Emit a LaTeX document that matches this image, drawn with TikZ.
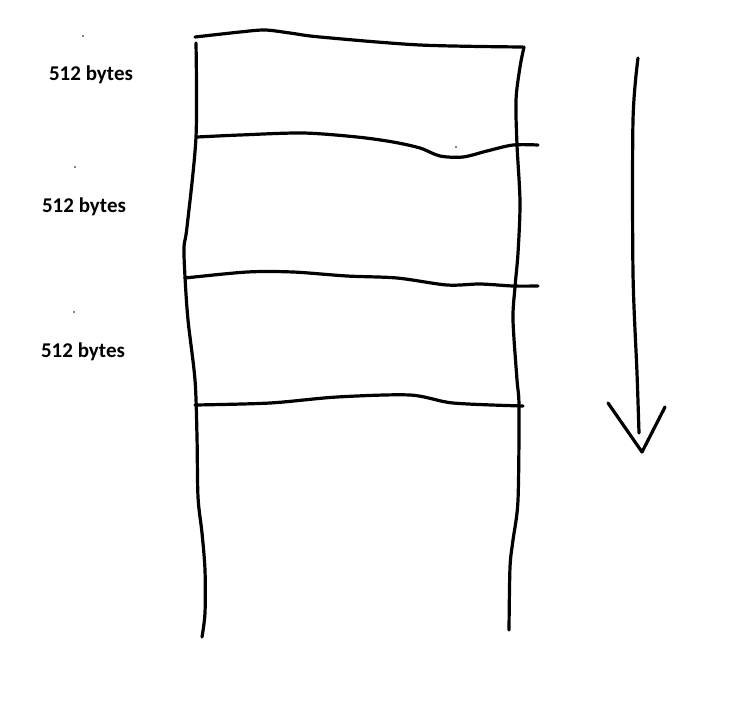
\documentclass[tikz,border=0pt]{standalone}
\usepackage{fontspec}
\setmainfont{Carlito}
\usepackage{tikz}

\tikzset{
  pen/.style={line width=3.2pt, line join=round, line cap=round},
  size/.style={font=\bfseries\fontsize{21}{24}\selectfont, inner sep=0pt},
  speck/.style={fill=black, circle, inner sep=0pt, minimum size=1.6pt}
}

\begin{document}
\begin{tikzpicture}[x=1pt, y=-1pt]
  \useasboundingbox (0,0) rectangle (730,718);

  % the block column
  \draw[pen] plot[smooth, tension=0.5] coordinates {(195,37) (240,32) (265,30) (290,33) (320,37) (420,45) (523,47)};
  \draw[pen] plot[smooth, tension=0.5] coordinates {(196,43) (196,137) (187,227) (184,247) (185,277) (188,320) (195,380) (197,437) (198,497) (202,533) (205,570) (205,613) (202,637)};
  \draw[pen] plot[smooth, tension=0.5] coordinates {(524,47) (520,67) (516,100) (517,145) (520,202) (518,253) (515,287) (513,320) (517,380) (519,407) (518,500) (513,540) (510,567) (509,630)};

  % block borders
  \draw[pen] plot[smooth, tension=0.5] coordinates {(197,137) (240,135) (303,133) (357,137) (393,142) (420,148) (440,156) (463,157) (487,151) (513,145) (538,145)};
  \draw[pen] plot[smooth, tension=0.5] coordinates {(185,278) (247,272) (293,272) (347,276) (397,278) (447,285) (480,284) (513,286) (538,286)};
  \draw[pen] plot[smooth, tension=0.5] coordinates {(195,405) (270,403) (337,397) (410,395) (453,403) (523,406)};

  % direction
  \draw[pen] plot[smooth, tension=0.5] coordinates {(638,58) (633,120) (633,273) (637,373) (639,433)};
  \draw[pen] (608,403) -- (642,452) -- (665,407);

  % labels
  \node[size] (first) at (91,75) {512 bytes};
  \node[size] (second) at (84,207) {512 bytes};
  \node[size] (third) at (83,352) {512 bytes};

  \node[speck] (s1) at (83,36) {};
  \node[speck] (s2) at (75,167) {};
  \node[speck] (s3) at (74,312) {};
  \node[speck] (s4) at (456,147) {};
\end{tikzpicture}
\end{document}
